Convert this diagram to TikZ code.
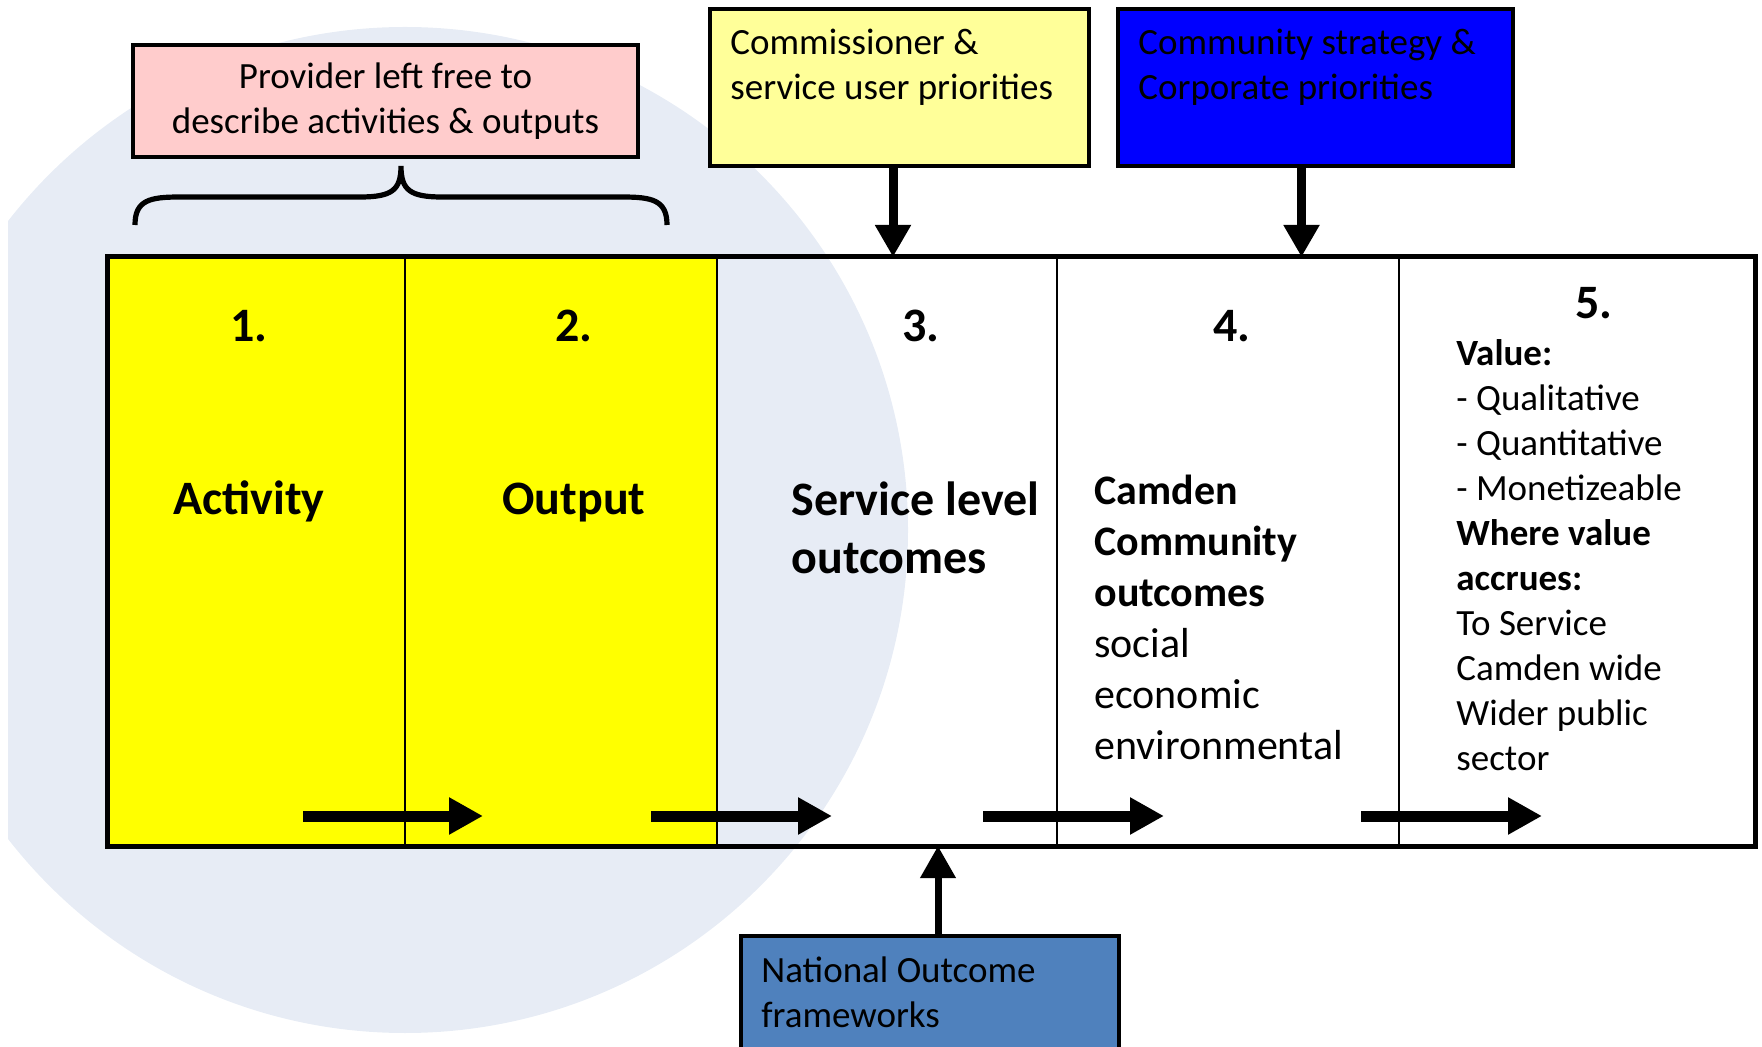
\documentclass[tikz,border=0pt]{standalone}
\usepackage{fontspec}
\setmainfont{Carlito}
\usetikzlibrary{arrows.meta,positioning}

\definecolor{bgcircle}{RGB}{231,236,245}
\definecolor{pinkbox}{RGB}{255,204,204}
\definecolor{paleyellow}{RGB}{255,255,153}
\definecolor{stageyellow}{RGB}{255,255,0}
\definecolor{strongblue}{RGB}{0,0,255}
\definecolor{steelblue}{RGB}{79,129,189}

\tikzset{
  column/.style={draw=black, line width=0.75pt, minimum height=294.5pt, inner sep=0pt, outer sep=0pt, anchor=north west},
  headbox/.style={draw=black, line width=1.6pt, inner sep=0pt, outer sep=0pt, anchor=north west},
  boxtext/.style={font=\fontsize{18.5pt}{22.5pt}\selectfont, align=left, inner sep=0pt, anchor=west},
  numtext/.style={font=\fontsize{24pt}{29pt}\selectfont\bfseries, inner sep=0pt, anchor=base},
  bigtext/.style={font=\fontsize{24pt}{29pt}\selectfont\bfseries, inner sep=0pt, align=left},
  midtext/.style={font=\fontsize{21pt}{25.5pt}\selectfont, inner sep=0pt, align=left, anchor=west},
  pusharrow/.style={line width=4.5pt, -{Triangle[width=17pt,length=16pt]}},
  flowarrow/.style={line width=5.5pt, -{Triangle[width=17.5pt,length=17pt]}}
}

\begin{document}
\begin{tikzpicture}[x=0.5pt,y=-0.5pt]
  \useasboundingbox (0,0) rectangle (1762,1047);

  % background disc, cut at the left
  \begin{scope}
    \clip (8,0) rectangle (1762,1047);
    \fill[bgcircle] (405,530) circle[radius=503];
  \end{scope}

  % the five stages
  \node[column, fill=stageyellow, minimum width=149pt] (col1) at (107,257) {};
  \node[column, fill=stageyellow, minimum width=156pt, right=0pt of col1] (col2) {};
  \node[column, minimum width=170pt, right=0pt of col2] (col3) {};
  \node[column, minimum width=171pt, right=0pt of col3] (col4) {};
  \node[column, minimum width=178pt, right=0pt of col4] (col5) {};
  \draw[line width=2.5pt] (col1.north west) rectangle (col5.south east);

  \node[numtext] (num1) at (249,342) {1.};
  \node[numtext] (num2) at (574,342) {2.};
  \node[numtext] (num3) at (921,342) {3.};
  \node[numtext] (num4) at (1232,342) {4.};
  \node[numtext] (num5) at (1594,319) {5.};

  \node[bigtext, anchor=base] (activity) at (249,515) {Activity};
  \node[bigtext, anchor=base] (output) at (574,515) {Output};
  \node[bigtext, anchor=west] (service) at (791,528) {Service level\\outcomes};
  \node[midtext] (camden) at (1094,617) {\textbf{Camden}\\\textbf{Community}\\\textbf{outcomes}\\social\\economic\\environmental};
  \node[boxtext] (value) at (1456,555) {\textbf{Value:}\\- Qualitative\\- Quantitative\\- Monetizeable\\\textbf{Where value}\\\textbf{accrues:}\\To Service\\Camden wide\\Wider public\\sector};

  % flow along the stages
  \foreach \a/\b [count=\i] in {303/483, 651/832, 983/1164, 1361/1542} {
    \coordinate (flow\i s) at (\a,816);
    \coordinate (flow\i e) at (\b,816);
    \draw[flowarrow] (flow\i s) -- (flow\i e);
  }

  % boxes round the chain
  \node[headbox, fill=pinkbox, minimum width=252.5pt, minimum height=56pt, align=center,
        font=\fontsize{18.5pt}{22.5pt}\selectfont] (provider) at (133,45) {Provider left free to\\describe activities \& outputs};
  \node[headbox, fill=paleyellow, minimum width=189.5pt, minimum height=78.5pt] (comm) at (710,9) {};
  \node[boxtext] (comm text) at (730,67) {Commissioner \&\\service user priorities};
  \node[headbox, fill=strongblue, minimum width=197.5pt, minimum height=78.5pt] (strategy) at (1118,9) {};
  \node[boxtext] (strategy text) at (1138,67) {Community strategy \&\\Corporate priorities};
  \node[headbox, fill=steelblue, minimum width=189pt, minimum height=75pt] (national) at (741,936) {};
  \node[boxtext] (national text) at (761,992) {National Outcome\\frameworks};

  % brace under the provider box
  \draw[line width=2.6pt] (135,225) .. controls (135,200) and (150,197) .. (180,197) -- (360,197)
    .. controls (392,197) and (401,190) .. (401,166) .. controls (401,190) and (410,197) .. (442,197)
    -- (622,197) .. controls (652,197) and (667,200) .. (667,225);

  % inputs into the chain
  \draw[pusharrow] ([xshift=-3.25pt]comm.south) -- ([xshift=-3.25pt]comm.south |- col3.north);
  \draw[pusharrow] ([xshift=-7pt]strategy.south) -- ([xshift=-7pt]strategy.south |- col4.north);
  \draw[pusharrow, line width=3.5pt] ([xshift=4pt]national.north) -- ([xshift=4pt]national.north |- col3.south);
\end{tikzpicture}
\end{document}
